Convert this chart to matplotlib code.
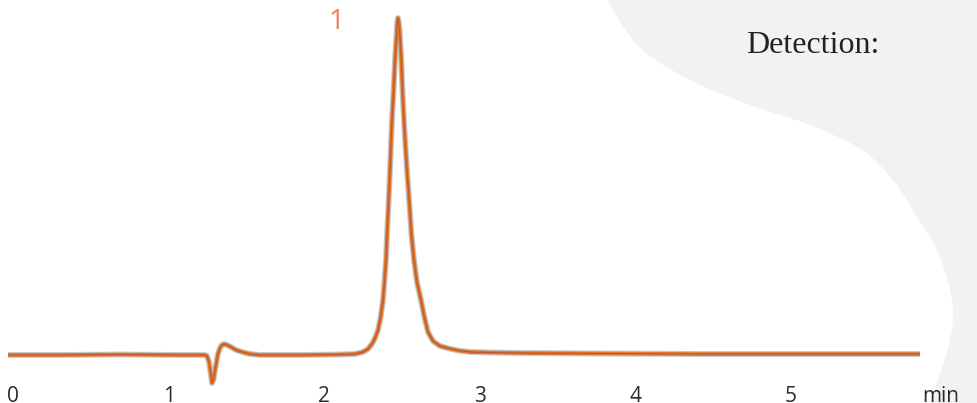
import numpy as np
import matplotlib.pyplot as plt
from matplotlib.path import Path
from matplotlib.patches import PathPatch

# chromatogram trace (time in min, signal in arbitrary units)
time_min = [-0.032, 0.302, 0.688, 1.073, 1.234, 1.247, 1.260, 1.272, 1.279, 1.288,
            1.301, 1.317, 1.330, 1.343, 1.356, 1.375, 1.401, 1.433, 1.472, 1.523,
            1.587, 1.844, 2.102, 2.198, 2.249, 2.281, 2.307, 2.327, 2.346, 2.362,
            2.378, 2.388, 2.397, 2.404, 2.413, 2.423, 2.433, 2.439, 2.446, 2.455,
            2.465, 2.469, 2.474, 2.479, 2.484, 2.494, 2.503, 2.516, 2.532, 2.548,
            2.561, 2.577, 2.596, 2.622, 2.645, 2.667, 2.699, 2.744, 2.789, 2.860,
            2.937, 3.065, 3.258, 3.773, 4.415, 5.058, 5.829]
signal = [0, 0, 0.5, 0, 0, -1, -7, -20, -28, -25,
          -13, 1, 7, 10, 11, 10, 8, 5, 3, 1,
          0, 0, 0.5, 1, 3, 6, 11, 17, 25, 37,
          55, 75, 95, 120, 150, 185, 225, 245, 265, 295,
          320, 332, 337, 333, 325, 300, 265, 225, 185, 150,
          120, 95, 73, 55, 37, 23, 14, 9, 7, 4.5,
          3, 2.5, 2, 1.5, 1, 1, 1]

tick_values = [0, 1, 2, 3, 4, 5]
x_unit = "min"
peak_labels = ["1"]
peak_label_pos = [(2.076, 333)]


def smooth_path(pts):
    # catmull-rom through the points, as cubic bezier pieces
    pts = np.asarray(pts, float)
    ext = np.vstack([pts[0], pts, pts[-1]])
    verts = [pts[0]]
    codes = [Path.MOVETO]
    for i in range(1, len(ext) - 2):
        p0, p1, p2, p3 = ext[i - 1], ext[i], ext[i + 1], ext[i + 2]
        verts += [p1 + (p2 - p0) / 6, p2 - (p3 - p1) / 6, p2]
        codes += [Path.CURVE4] * 3
    return verts, codes


fig = plt.figure(figsize=(9.77, 4.03), dpi=100)

# background decoration in pixel coordinates
bg = fig.add_axes([0, 0, 1, 1], zorder=0)
bg.set_xlim(0, 977)
bg.set_ylim(403, 0)
bg.axis("off")
edge = [(605, -5), (622, 25), (645, 52), (690, 80), (750, 105), (810, 125),
        (862, 150), (893, 180), (917, 217), (937, 250), (950, 290),
        (953, 320), (947, 352), (937, 383), (927, 410)]
verts, codes = smooth_path(edge)
verts += [(990, 410), (990, -5), (605, -5)]
codes += [Path.LINETO, Path.LINETO, Path.CLOSEPOLY]
bg.add_patch(PathPatch(Path(verts, codes), facecolor="#f2f2f2", edgecolor="none"))
bg.text(823, 0, "Flow rate:", ha="center", va="baseline", fontsize=23,
        family="Liberation Serif", color="#222222")
bg.text(813, 53, "Detection:", ha="center", va="baseline", fontsize=23,
        family="Liberation Serif", color="#222222")

# the chromatogram
ax = fig.add_axes([0, 0, 1, 1], zorder=1)
ax.patch.set_alpha(0)
ax.set_xlim(-13 / 155.6, (977 - 13) / 155.6)
ax.set_ylim(-48, 355)
ax.axis("off")

ax.plot(time_min, signal, color="#8f989c", lw=4.2, alpha=0.55, solid_joinstyle="round", solid_capstyle="butt")
ax.plot(time_min, signal, color="#e07a2e", lw=2.6, solid_joinstyle="round", solid_capstyle="butt")
ax.plot(time_min, signal, color="#bd4a28", lw=0.8, alpha=0.8, solid_joinstyle="round", solid_capstyle="butt")

for t in tick_values:
    ax.text(t, -41, str(t), ha="center", va="center", fontsize=15, family="Open Sans", color="#2b2b2b")
ax.text(5.965, -41, x_unit, ha="center", va="center", fontsize=15, family="Open Sans", color="#2b2b2b")

for lab, (px, py) in zip(peak_labels, peak_label_pos):
    ax.text(px, py, lab, ha="center", va="center", fontsize=20, family="Open Sans", color="#ee7d55")

plt.savefig("out.png", dpi=100)
